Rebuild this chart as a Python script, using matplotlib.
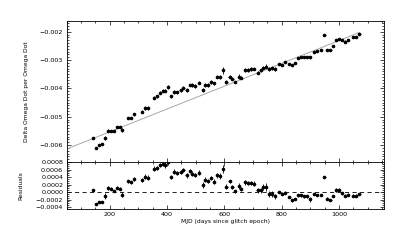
import numpy as np
import matplotlib
matplotlib.use("Agg")
import matplotlib.pyplot as plt
from matplotlib.ticker import MultipleLocator, FuncFormatter

# ---- data ----
mjd = [141, 152, 163, 172, 183, 194, 205, 215, 227, 236, 244, 264, 273, 285,
       312, 322, 333, 354, 364, 375, 385, 394, 404, 415, 426, 435, 447, 457,
       468, 479, 488, 498, 511, 526, 534, 542, 554, 563, 575, 585, 594, 607,
       618, 628, 636, 650, 659, 671, 681, 692, 702, 716, 726, 735, 744, 755,
       765, 776, 791, 801, 812, 827, 836, 847, 858, 868, 878, 888, 899, 912,
       923, 936, 949, 958, 970, 979, 990, 1000, 1011, 1021, 1030, 1048, 1058, 1071]

# Delta Omega Dot per Omega Dot, in units of 1e-3
domega = [-5.768, -6.093, -6.000, -5.954, -5.745, -5.501, -5.501, -5.501, -5.374,
          -5.374, -5.467, -5.038, -5.038, -4.910, -4.829, -4.690, -4.690, -4.330,
          -4.284, -4.157, -4.075, -4.075, -3.959, -4.284, -4.133, -4.133, -4.064,
          -3.971, -4.041, -3.878, -3.878, -3.913, -3.797, -4.064, -3.878, -3.878,
          -3.774, -3.820, -3.588, -3.588, -3.368, -3.774, -3.588, -3.658, -3.774,
          -3.588, -3.623, -3.368, -3.345, -3.322, -3.299, -3.449, -3.368, -3.275,
          -3.229, -3.322, -3.275, -3.299, -3.148, -3.183, -3.078, -3.148, -3.183,
          -3.113, -2.939, -2.893, -2.893, -2.881, -2.904, -2.719, -2.696, -2.649,
          -2.128, -2.638, -2.638, -2.499, -2.290, -2.267, -2.290, -2.348, -2.290,
          -2.197, -2.174, -2.070]

# Residuals, in units of 1e-3
resid = [0.043, -0.326, -0.266, -0.258, -0.112, 0.112, 0.094, 0.034, 0.112, 0.094,
         -0.069, 0.283, 0.258, 0.343, 0.318, 0.412, 0.378, 0.627, 0.644, 0.730,
         0.747, 0.721, 0.798, 0.403, 0.541, 0.498, 0.532, 0.592, 0.446, 0.558,
         0.489, 0.455, 0.515, 0.189, 0.326, 0.300, 0.369, 0.275, 0.446, 0.429,
         0.609, 0.146, 0.283, 0.129, 0.017, 0.163, 0.077, 0.258, 0.240, 0.240,
         0.223, 0.043, 0.043, 0.129, 0.129, -0.043, -0.043, -0.112, 0.000, -0.043,
         -0.017, -0.129, -0.215, -0.180, -0.086, -0.086, -0.112, -0.112, -0.197,
         -0.043, -0.086, -0.086, 0.395, -0.172, -0.215, -0.112, 0.060, 0.060,
         -0.026, -0.094, -0.069, -0.094, -0.094, -0.060]

# vertical error bars, in units of 1e-3
yerr = [0.02, 0.02, 0.02, 0.03, 0.08, 0.05, 0.04, 0.03, 0.04, 0.04, 0.06, 0.04,
        0.04, 0.05, 0.05, 0.06, 0.07, 0.06, 0.06, 0.05, 0.06, 0.07, 0.07, 0.06,
        0.06, 0.05, 0.05, 0.05, 0.07, 0.05, 0.06, 0.06, 0.06, 0.08, 0.07, 0.06,
        0.06, 0.06, 0.06, 0.07, 0.11, 0.06, 0.05, 0.06, 0.05, 0.08, 0.06, 0.07,
        0.06, 0.06, 0.06, 0.06, 0.06, 0.08, 0.10, 0.08, 0.08, 0.07, 0.03, 0.04,
        0.04, 0.03, 0.04, 0.03, 0.04, 0.04, 0.04, 0.04, 0.06, 0.03, 0.03, 0.03,
        0.03, 0.03, 0.03, 0.03, 0.05, 0.04, 0.04, 0.04, 0.04, 0.03, 0.03, 0.03]

xerr_days = 4.0

# linear fit line endpoints
fit_x = [50, 1072]
fit_y = [-6.14, -2.02]   # units of 1e-3

xticks = [200, 400, 600, 800, 1000]

# ---- plot ----
plt.rcParams['font.family'] = ['DejaVu Sans']
fs_tick = 4.6
fs_lab = 4.3

fig = plt.figure(figsize=(4.15, 2.45), dpi=100)
W, H = 415.0, 245.0
left, right = 66.7 / W, 383.5 / W
ax1 = fig.add_axes([left, 1 - 162 / H, right - left, (162 - 20.7) / H])
ax2 = fig.add_axes([left, 1 - 209 / H, right - left, (209 - 162) / H])

m = np.array(mjd, dtype=float)
d = np.array(domega) * 1e-3
r = np.array(resid) * 1e-3
e = np.array(yerr) * 1e-3

ekw = dict(fmt='o', ms=1.6, mfc='black', mec='black', ecolor='black',
           elinewidth=0.6, capsize=0, lw=0)
ax1.errorbar(m, d, yerr=e, xerr=xerr_days, **ekw)
ax1.plot(fit_x, np.array(fit_y) * 1e-3, color='#a8a8a8', lw=0.7)

ax2.errorbar(m, r, yerr=e, xerr=xerr_days, **ekw)
ax2.axhline(0, color='black', lw=0.6, ls=(0, (5, 4)))

xlim = (50, 1155)
ax1.set_xlim(*xlim)
ax2.set_xlim(*xlim)
ax1.set_ylim(-0.0066, -0.00161)
ax2.set_ylim(-0.00045, 0.0008)

for ax in (ax1, ax2):
    ax.xaxis.set_major_locator(MultipleLocator(200))
    ax.xaxis.set_minor_locator(MultipleLocator(50))
    ax.tick_params(which='both', direction='in', top=True, right=True,
                   labelsize=fs_tick, width=0.5, pad=2.5)
    ax.tick_params(which='major', length=3.0)
    ax.tick_params(which='minor', length=1.6)
    for s in ax.spines.values():
        s.set_linewidth(0.6)

ax1.yaxis.set_major_locator(MultipleLocator(0.001))
ax1.yaxis.set_minor_locator(MultipleLocator(0.0001))
ax1.yaxis.set_major_formatter(FuncFormatter(lambda v, p: ('%.3f' % v).replace('-', '\u2212')))
ax1.tick_params(axis='x', labelbottom=False)

ax2.yaxis.set_major_locator(MultipleLocator(0.0002))
ax2.yaxis.set_minor_locator(MultipleLocator(0.00005))
ax2.yaxis.set_major_formatter(FuncFormatter(lambda v, p: ('%.4f' % (0 if abs(v) < 1e-12 else v)).replace('-', '\u2212')))
ax2.set_xticks(xticks)

ax1.set_ylabel('Delta Omega Dot per Omega Dot', fontsize=fs_lab, labelpad=6)
ax2.set_ylabel('Residuals', fontsize=fs_lab, labelpad=3)
ax2.set_xlabel('MJD (days since glitch epoch)', fontsize=fs_lab, labelpad=1)
ax1.yaxis.set_label_coords(-38 / 316.8, 0.5)
ax2.yaxis.set_label_coords(-43 / 316.8, 0.5)

fig.savefig('out.png', dpi=100)
